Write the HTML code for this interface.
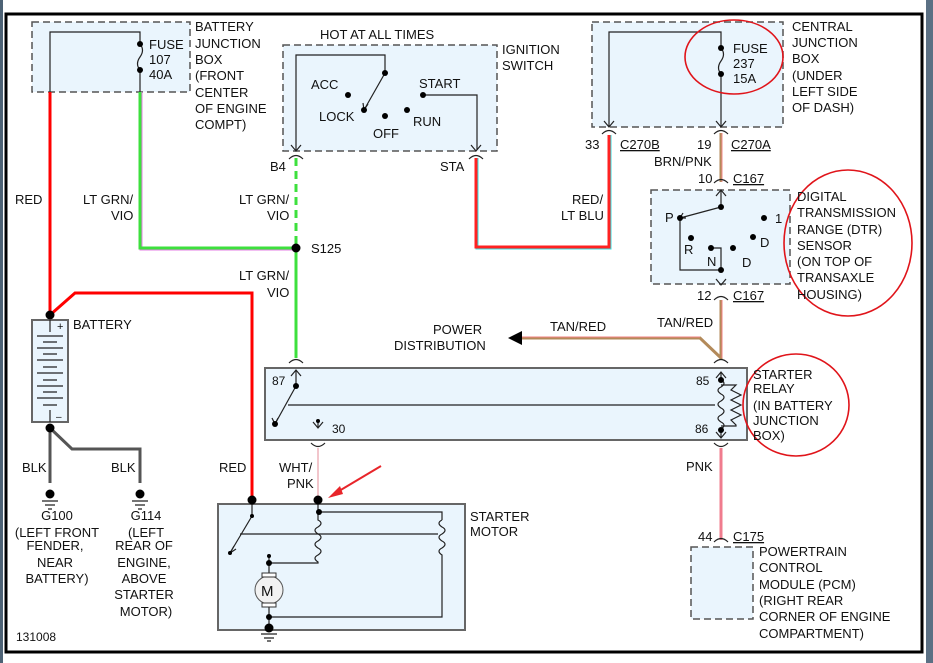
<!DOCTYPE html>
<html><head><meta charset="utf-8"><style>
html,body{margin:0;padding:0;background:#fff;}
svg{display:block;}
text{font-family:"Liberation Sans",sans-serif;font-size:13px;fill:#111;}
</style></head><body>
<svg width="933" height="663" viewBox="0 0 933 663" xmlns="http://www.w3.org/2000/svg">
<rect x="0" y="0" width="933" height="663" fill="#fff"/>
<rect x="0" y="0" width="3" height="663" fill="#4d6275"/>
<rect x="926" y="0" width="7" height="663" fill="#5b7084"/>
<rect x="6" y="14" width="916" height="638" fill="none" stroke="#000" stroke-width="3"/>

<g fill="#eaf5fd" stroke="#555" stroke-width="1.5" stroke-dasharray="7,4">
<rect x="32" y="22" width="158" height="70"/>
<rect x="283" y="45" width="214" height="106"/>
<rect x="592" y="22" width="191" height="105"/>
<rect x="651" y="190" width="139" height="94"/>
<rect x="691" y="547" width="62" height="72"/>
</g>
<g fill="#eaf5fd" stroke="#666" stroke-width="2">
<rect x="265" y="368" width="482" height="72"/>
<rect x="218" y="504" width="247" height="126"/>
<rect x="32" y="320" width="36" height="102"/>
</g>

<!-- wires -->
<g fill="none" stroke-width="3">
<path d="M50 92V315" stroke="#f00"/>
<path d="M141 92V249H296" stroke="#e67de6"/>
<path d="M140 92V248H296" stroke="#3de03d"/>
<path d="M296 158V248" stroke="#3de03d" stroke-dasharray="8,5"/>
<path d="M296 248V358" stroke="#3de03d"/>
<path d="M477 158V248H610V135" stroke="#33e0e0"/>
<path d="M476 158V247H609V135" stroke="#f22"/>
<path d="M50 315L75 293H252V500" stroke="#f00"/>
<path d="M721 133V182" stroke="#b38a5a"/>
<path d="M722 133V182" stroke="#f08a8a" stroke-width="1"/>
<path d="M721 300V360M721 358L700 338H520" stroke="#b38a5a"/>
<path d="M722 300V358M700 337H520" stroke="#f08080" stroke-width="1"/>
<path d="M721 448V540" stroke="#f07c8e"/>
<path d="M318 448V500" stroke="#f2c6cc" stroke-width="2"/>
<path d="M50 428V483M50 428L72 449H140V483" stroke="#555"/>
</g>
<path d="M508 338L522 331V345Z" fill="#000"/>

<!-- connectors -->
<g fill="none" stroke="#222" stroke-width="1.2">
<path d="M289 159Q296 152 303 159M469 159Q476 152 483 159M602 134Q609 127 616 134M714 134Q721 127 728 134M714 183Q721 176 728 183M714 300Q721 293 728 300M289 363Q296 356 303 363M714 363Q721 356 728 363M311 443Q318 450 325 443M714 443Q721 450 728 443M714 542Q721 535 728 542"/>
<!-- inner lines -->
<path d="M50 92V32H140V44M140 70V92M140 44q5 6 0 13t0 13"/>
<path d="M296 150V55H385V73L364 110M423 95H477V150"/>
<path d="M609 127V32H721V48M721 74V127M721 48q5 6 0 13t0 13"/>
<path d="M721 190V207L680 218V270H721V248H711"/>
<path d="M296 370V386L275 424M318 420V428M288 405H715"/>
<path d="M721 372V380M721 430V438"/>
<path d="M721 380q6 3 0 7q-6 3 0 7q6 3 0 7q-6 3 0 7q6 3 0 7q-6 3 0 7q6 3 0 7"/>
<path d="M721 385H736l-5 5 10 5-10 5 10 5-10 5 10 5-10 5 5 5V426H721"/>
<path d="M252 500V516L230 553M240 534H438"/>
<path d="M318 500V512H442V520M318 512V520q6 3 0 7q-6 3 0 7q6 3 0 7q-6 3 0 7q6 3 0 7q-6 3 0 7V563H269M442 520q-6 3 0 7q6 3 0 7q-6 3 0 7q6 3 0 7q-6 3 0 7V617H269"/>
<path d="M269 556V576M269 604V628"/>
<path d="M50 320V332M50 410V422"/>
<path d="M37 336H63M43 342H57M37 348H63M43 354H57M37 360H63M43 367H57M37 373H63M43 380H57M37 386H63M43 392H57M37 398H63M43 405H57"/>
</g>
<g fill="none" stroke="#222" stroke-width="1.2">
<path d="M291 145L296 151L301 145M471 145L476 151L481 145M604 121L609 127L614 121M716 121L721 127L726 121M716 196L721 190L726 196M716 279L721 285L726 279M291 376L296 370L301 376M313 422L318 428L323 422M716 378L721 372L726 378M716 432L721 438L726 432M368 104L364 110L363 103M683 213L680 218L686 218M272 418L275 424L278 418M234 546L230 553L236 549"/>
</g>
<circle cx="269" cy="590" r="14" fill="#f2f2f2" stroke="#555"/>
<rect x="262" y="573" width="14" height="4" fill="#fff" stroke="#333"/>
<rect x="262" y="603" width="14" height="4" fill="#fff" stroke="#333"/>
<text x="261" y="596" style="font-size:15px">M</text>
<text x="57" y="330" style="font-size:11px">+</text>
<text x="56" y="420" style="font-size:10px">–</text>

<g fill="#000">
<circle cx="140" cy="44" r="3"/><circle cx="140" cy="70" r="3"/>
<circle cx="385" cy="73" r="3"/><circle cx="364" cy="110" r="3"/><circle cx="348" cy="95" r="3"/><circle cx="385" cy="116" r="3"/><circle cx="407" cy="110" r="3"/><circle cx="423" cy="95" r="3"/>
<circle cx="721" cy="48" r="3"/><circle cx="721" cy="74" r="3"/>
<circle cx="721" cy="207" r="3"/><circle cx="680" cy="218" r="3"/><circle cx="764" cy="218" r="3"/><circle cx="691" cy="238" r="3"/><circle cx="711" cy="248" r="3"/><circle cx="733" cy="248" r="3"/><circle cx="753" cy="237" r="3"/><circle cx="721" cy="270" r="3"/>
<circle cx="296" cy="248" r="4.5"/><circle cx="50" cy="315" r="4.5"/><circle cx="50" cy="428" r="4.5"/>
<circle cx="296" cy="386" r="3"/><circle cx="275" cy="424" r="3"/><circle cx="318" cy="421" r="2"/>
<circle cx="721" cy="380" r="3"/><circle cx="721" cy="430" r="3"/>
<circle cx="252" cy="500" r="4.5"/><circle cx="318" cy="500" r="4.5"/><circle cx="319" cy="512" r="3"/><circle cx="252" cy="516" r="2"/><circle cx="230" cy="553" r="2"/>
<circle cx="269" cy="556" r="2"/><circle cx="269" cy="563" r="3"/><circle cx="269" cy="617" r="3"/><circle cx="269" cy="628" r="4.5"/>
<circle cx="50" cy="494" r="4.5"/><circle cx="140" cy="494" r="4.5"/>
</g>
<g stroke="#222" stroke-width="1.2">
<path d="M42 501H58M45 505H55M48 509H52M132 501H148M135 505H145M138 509H142M261 634H277M264 638H274M267 641H271"/>
</g>
<path d="M381 466L334 494" stroke="#e8252a" stroke-width="2"/>
<path d="M328 498L340 486L343 494Z" fill="#e8252a"/>

<g fill="none" stroke="#e0141a" stroke-width="1.6">
<ellipse cx="734" cy="57" rx="49" ry="37"/>
<ellipse cx="848" cy="243" rx="64" ry="73"/>
<ellipse cx="796" cy="405" rx="53" ry="51"/>
</g>

<g>
<text x="149" y="49">FUSE</text><text x="149" y="64">107</text><text x="149" y="79">40A</text>
<text x="195" y="31">BATTERY</text><text x="195" y="48">JUNCTION</text><text x="195" y="64">BOX</text><text x="195" y="80">(FRONT</text><text x="195" y="97">CENTER</text><text x="195" y="113">OF ENGINE</text><text x="195" y="129">COMPT)</text>
<text x="320" y="39">HOT AT ALL TIMES</text>
<text x="502" y="54">IGNITION</text><text x="502" y="70">SWITCH</text>
<text x="311" y="89">ACC</text><text x="319" y="121">LOCK</text><text x="373" y="138">OFF</text><text x="413" y="126">RUN</text><text x="419" y="88">START</text>
<text x="270" y="171">B4</text><text x="440" y="171">STA</text>
<text x="15" y="204">RED</text>
<text x="83" y="204">LT GRN/</text><text x="111" y="220">VIO</text>
<text x="239" y="204">LT GRN/</text><text x="267" y="220">VIO</text>
<text x="311" y="253">S125</text>
<text x="239" y="280">LT GRN/</text><text x="267" y="297">VIO</text>
<text x="733" y="53">FUSE</text><text x="733" y="68">237</text><text x="733" y="83">15A</text>
<text x="792" y="31">CENTRAL</text><text x="792" y="47">JUNCTION</text><text x="792" y="63">BOX</text><text x="792" y="80">(UNDER</text><text x="792" y="96">LEFT SIDE</text><text x="792" y="112">OF DASH)</text>
<text x="585" y="149">33</text><text x="620" y="149" text-decoration="underline">C270B</text>
<text x="697" y="149">19</text><text x="731" y="149" text-decoration="underline">C270A</text>
<text x="654" y="166">BRN/PNK</text>
<text x="698" y="183">10</text><text x="733" y="183" text-decoration="underline">C167</text>
<text x="572" y="204">RED/</text><text x="561" y="220">LT BLU</text>
<text x="665" y="222">P</text><text x="775" y="223">1</text><text x="684" y="254">R</text><text x="707" y="266">N</text><text x="742" y="267">D</text><text x="760" y="247">D</text>
<text x="797" y="201">DIGITAL</text><text x="797" y="217">TRANSMISSION</text><text x="797" y="234">RANGE (DTR)</text><text x="797" y="250">SENSOR</text><text x="797" y="266">(ON TOP OF</text><text x="797" y="282">TRANSAXLE</text><text x="797" y="299">HOUSING)</text>
<text x="697" y="300">12</text><text x="733" y="300" text-decoration="underline">C167</text>
<text x="433" y="334">POWER</text><text x="394" y="350">DISTRIBUTION</text>
<text x="550" y="331">TAN/RED</text><text x="657" y="327">TAN/RED</text>
<text x="73" y="329">BATTERY</text>
<text x="272" y="385" style="font-size:12px">87</text><text x="332" y="433" style="font-size:12px">30</text>
<text x="696" y="385" style="font-size:12px">85</text><text x="695" y="433" style="font-size:12px">86</text>
<text x="753" y="379">STARTER</text><text x="753" y="393">RELAY</text><text x="753" y="410">(IN BATTERY</text><text x="753" y="425">JUNCTION</text><text x="753" y="440">BOX)</text>
<text x="22" y="472">BLK</text><text x="111" y="472">BLK</text>
<text x="219" y="472">RED</text><text x="279" y="472">WHT/</text><text x="287" y="488">PNK</text>
<text x="686" y="471">PNK</text>
<text x="698" y="541">44</text><text x="733" y="541" text-decoration="underline">C175</text>
<text x="470" y="521">STARTER</text><text x="470" y="536">MOTOR</text>
<g text-anchor="middle">
<text x="57" y="520">G100</text><text x="57" y="537">(LEFT FRONT</text><text x="55" y="550">FENDER,</text><text x="55" y="567">NEAR</text><text x="57" y="583">BATTERY)</text>
<text x="146" y="520">G114</text><text x="146" y="537">(LEFT</text><text x="144" y="550">REAR OF</text><text x="144" y="567">ENGINE,</text><text x="144" y="583">ABOVE</text><text x="144" y="599">STARTER</text><text x="146" y="616">MOTOR)</text>
</g>
<text x="759" y="556">POWERTRAIN</text><text x="759" y="572">CONTROL</text><text x="759" y="589">MODULE (PCM)</text><text x="759" y="605">(RIGHT REAR</text><text x="759" y="621">CORNER OF ENGINE</text><text x="759" y="638">COMPARTMENT)</text>
<text x="16" y="641" style="font-size:12px">131008</text>
</g>
</svg>
</body></html>
